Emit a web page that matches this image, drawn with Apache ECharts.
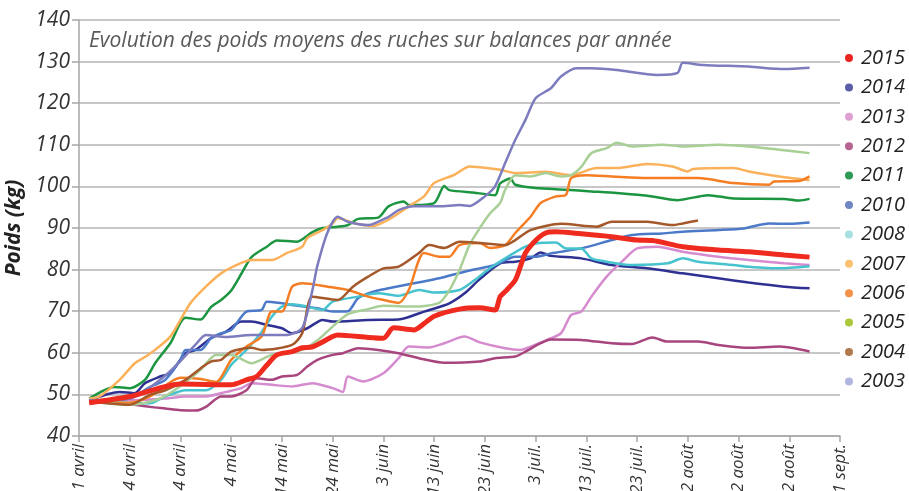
<!DOCTYPE html>
<html>
<head>
<meta charset="utf-8">
<script src="https://cdn.jsdelivr.net/npm/echarts@6/dist/echarts.min.js"></script>
<style>
 html,body{margin:0;padding:0;background:#fff;}
 #chart{width:909px;height:491px;}
</style>
</head>
<body>
<div id="chart"></div>
<script>
// libelles de l'axe x (un tous les 10 pas)
var xLabels=['1 avril','14 avril','24 avril','4 mai','14 mai','24 mai','3 juin','13 juin','23 juin','3 juil.','13 juil.','23 juil.','2 août','12 août','22 août','1 sept.'];
var years=['2015','2014','2013','2012','2011','2010','2008','2007','2006','2005','2004','2003'];
var lineColors=['#ee2b1e','#2e3192','#d68bcf','#a8457e','#1b9540','#4c7ac9','#46c3cf','#fbb05a','#f57e24','#a8cf96','#a5582a','#7c7cbf'];
var legendColors=['#e8251f','#5b5ea6','#dda0d0','#b56590','#2e9a55','#6f86c0','#a8e0e2','#fbc170','#f5924a','#abc73a','#b07a4e','#b0b6dd'];

// [pas, poids kg]
var p2015=[[2,48],[10,49.5],[20,52.5],[30,52.3],[33,53.5],[35,54.3],[37,57],[39,59.5],[42,60.3],[44,61.2],[46,61.4],[50,63.9],[51,64.3],[57,63.7],[60,63.5],[62,66],[66,65.5],[68,67],[70,68.8],[75,70.5],[79,70.8],[82,70.3],[83,73.5],[84,74.7],[86,77.5],[87,80.7],[88,84],[90,87],[92,88.8],[94,89.1],[99,88.6],[105,87.9],[110,87.1],[113,87],[119,85.5],[126,84.7],[132,84.3],[139,83.5],[144,83]];
var p2014=[[2,48.6],[8,50.6],[11,50.3],[13,52.7],[16,54.3],[18,55.1],[21,59.9],[23,60.7],[26,63.5],[29,65.1],[32,67.5],[34,67.5],[37,66.7],[40,65.9],[42,64.7],[45,65.9],[48,67.9],[50,67.5],[57,67.9],[63,68],[68,69.9],[73,71.9],[76,74.3],[79,77.7],[83,81.5],[86,81.9],[89,82.7],[91,84.1],[93,83.3],[99,82.7],[105,81.1],[112,80.3],[119,79.1],[126,77.9],[132,76.9],[139,75.9],[144,75.5]];
var p2013=[[2,48.6],[11,48.6],[17,49],[21,49.5],[25,49.5],[29,50.6],[32,51.5],[34,52.7],[38,52.3],[42,51.9],[46,52.7],[50,51.5],[52,50.6],[53,54.3],[56,53.1],[60,55.1],[63,58.7],[65,61.5],[69,61.3],[72,62.3],[76,63.9],[79,62.5],[84,61.1],[87,60.7],[89,61.5],[92,63],[95,64.7],[97,69.1],[99,69.9],[101,73.5],[104,78.3],[107,81.9],[110,85.1],[114,85.5],[119,84.3],[126,83.1],[132,82.3],[139,81.5],[144,81.1]];
var p2012=[[2,48.6],[11,47.5],[14,47],[17,46.6],[20,46.2],[23,46.1],[25,47],[28,49.5],[30,49.5],[33,51],[35,53.9],[38,53.5],[40,54.3],[43,54.7],[45,56.7],[47,58.3],[50,59.5],[52,59.9],[55,61.1],[59,60.7],[63,59.9],[67,58.7],[72,57.6],[79,57.9],[82,58.7],[86,59.1],[88,60.3],[91,62.3],[93,63.2],[99,63.1],[105,62.3],[109,62.1],[113,63.7],[116,62.7],[122,62.7],[126,61.9],[132,61.2],[138,61.5],[141,61.1],[144,60.3]];
var p2011=[[2,49],[7,51.8],[10,51.5],[13,53.5],[15,57.5],[18,62.3],[21,68.4],[24,68],[26,71],[28,72.7],[30,75],[32,79],[34,83],[37,85.5],[39,87],[43,86.7],[46,89],[48,90],[51,90.3],[53,90.7],[55,92.2],[59,92.5],[61,95.2],[64,96.4],[65,95.5],[70,96],[72,100.1],[73,99.1],[78,98.5],[82,97.9],[83,100.7],[85,101.9],[86,100.4],[90,99.6],[96,99.2],[101,98.8],[106,98.4],[113,97.6],[118,96.7],[124,97.9],[129,97.1],[139,97],[142,96.6],[144,97]];
var p2010=[[2,48.2],[10,49],[14,51.8],[17,53.5],[20,58.3],[21,60.7],[24,60.7],[26,63.5],[28,64.7],[30,65.5],[33,69.9],[36,70.3],[37,72.3],[40,71.9],[42,71.5],[47,70.7],[50,69.9],[53,70],[55,73.1],[58,74.7],[61,75.5],[66,76.7],[71,77.9],[76,79.5],[79,80.3],[82,81.1],[86,83.1],[90,83.1],[93,83.9],[99,85.1],[105,87.1],[109,88.3],[115,88.7],[119,89.1],[126,89.5],[131,89.9],[136,91.1],[140,91],[144,91.3]];
var p2008=[[2,48.6],[11,47.9],[14,47.9],[17,49.5],[21,51],[25,51],[28,53.5],[30,57.1],[33,60.7],[36,65],[38,68.7],[40,71.1],[42,71.7],[45,71.1],[48,70.3],[50,72.3],[55,73.5],[59,74.3],[63,73.7],[67,75.1],[70,74.5],[75,75.1],[78,77.5],[81,80.3],[84,82.7],[88,85.5],[90,86.3],[94,86.5],[96,85.1],[99,85.1],[101,82.7],[104,81.9],[109,81.1],[116,81.5],[119,82.7],[122,81.9],[129,81.1],[132,80.7],[138,80.3],[144,80.8]];
var p2007=[[2,49],[4,49.5],[8,53.5],[11,57.5],[13,59],[15,60.7],[18,63.9],[20,67.9],[22,72],[25,75.9],[28,79.1],[32,81.6],[34,82.3],[38,82.3],[41,84],[44,85.5],[45,87.6],[48,89.5],[50,91.1],[51,92.4],[54,91.2],[58,90.5],[61,92],[65,95.2],[68,97.6],[70,100.8],[74,102.8],[77,104.8],[79,104.6],[83,104],[86,103.2],[92,103.5],[97,102.7],[102,104.4],[106,104.4],[112,105.4],[117,104.8],[120,103.6],[121,104.2],[129,104.4],[132,103.6],[138,102.4],[144,101.5]];
var p2006=[[2,48.5],[6,48],[10,48],[14,49.5],[20,54],[24,53.7],[27,53],[30,58.3],[33,61.5],[36,63.9],[38,69.9],[40,69.9],[42,75.9],[44,76.7],[49,75.9],[53,75.1],[57,73.5],[60,72.7],[63,72],[65,75.1],[68,84],[71,83.1],[73,83.1],[75,85.9],[79,86.4],[81,85.2],[84,85.9],[86,88.8],[89,92.7],[91,96],[94,97.6],[96,98],[97,102],[100,102.7],[105,102.4],[112,102],[122,102],[129,100.8],[136,100.4],[137,101.2],[142,101.3],[144,102.4]];
var p2005=[[2,48.5],[10,47.5],[16,49],[20,52],[24,56],[27,59.5],[30,59.5],[34,57.5],[38,59.5],[44,60.7],[47,63],[50,66.3],[53,69.3],[57,70.5],[60,71.3],[66,71.1],[71,72],[73,75],[75,79.9],[77,86],[79,90],[81,93.5],[83,96],[84,99.2],[86,102.7],[89,102.4],[92,103.2],[95,102.4],[97,102.7],[99,104.7],[101,108],[104,109.2],[106,110.5],[109,109.6],[115,110],[119,109.6],[126,110],[132,109.6],[138,108.8],[144,108]];
var p2004=[[2,48.3],[6,47.8],[10,47.5],[14,49.9],[17,51],[21,53.5],[24,56.3],[26,57.9],[28,58.3],[30,60.3],[34,61.2],[36,60.7],[42,61.9],[44,64.7],[46,73.5],[51,72.7],[54,75.9],[57,78.3],[60,80.3],[63,80.7],[67,84],[69,85.9],[72,85.2],[75,86.7],[79,86.4],[84,85.9],[86,87.1],[89,89.5],[95,91],[102,90.3],[105,91.5],[112,91.5],[117,90.7],[119,91.1],[122,91.8]];
var p2003=[[2,48.6],[10,49],[16,53.5],[20,58],[23,62],[25,64.3],[29,63.8],[34,64.3],[38,64.3],[41,64.3],[44,66],[46,75],[47,81],[49,89],[51,92.7],[53,91.5],[57,90.7],[61,92.7],[63,94.3],[66,95.2],[71,95.2],[75,95.5],[77,95.3],[80,97.6],[82,100],[84,105.6],[86,111.2],[88,116],[90,121.2],[93,123.6],[95,126.4],[98,128.4],[101,128.4],[106,128],[114,126.8],[118,127.3],[119,129.7],[123,129.2],[132,128.8],[139,128.2],[144,128.5]];

var allData=[p2015,p2014,p2013,p2012,p2011,p2010,p2008,p2007,p2006,p2005,p2004,p2003];

var seriesData=[];
for(var i=0;i<years.length;i++){
	seriesData.push({
		name:years[i],
		type:'line',
		data:allData[i],
		smooth:0.25,
		showSymbol:false,
		z:i==0?5:2,
		lineStyle:{width:i==0?5:2.5,color:lineColors[i]},
		itemStyle:{color:lineColors[i]}
	});
}
var legendData=[];
for(var i=0;i<years.length;i++){
	legendData.push({name:years[i],itemStyle:{color:legendColors[i]}});
}

var font='"Open Sans", sans-serif';
var myChart=echarts.init(document.getElementById('chart'));
var option={
	animation:false,
	title:{
		text:'Evolution des poids moyens des ruches sur balances par année',
		left:84,top:26,
		textStyle:{fontFamily:font,fontStyle:'italic',fontWeight:'normal',fontSize:21,color:'#5a5a5a'}
	},
	legend:{
		orient:'vertical',
		left:840,top:43,
		icon:'circle',
		itemWidth:14,itemHeight:8,
		itemGap:9.4,
		data:legendData,
		textStyle:{fontFamily:font,fontStyle:'italic',fontSize:20,lineHeight:20,color:'#222'}
	},
	grid:{left:79,right:69,top:20,bottom:55,outerBoundsMode:'none'},
	xAxis:{
		type:'value',min:0,max:150,interval:10,
		axisLine:{lineStyle:{color:'#a6a6a6',width:1.5}},
		axisTick:{show:true,length:6,lineStyle:{color:'#a6a6a6',width:1.5}},
		splitLine:{show:false},
		axisLabel:{
			rotate:90,margin:8,
			fontFamily:font,fontStyle:'italic',fontSize:17,color:'#333',
			formatter:function(v){return xLabels[Math.round(v/10)];}
		}
	},
	yAxis:{
		type:'value',min:40,max:140,interval:10,
		name:'Poids (kg)',nameLocation:'middle',nameGap:46,
		nameTextStyle:{fontFamily:font,fontStyle:'italic',fontWeight:'bold',fontSize:21,color:'#222'},
		axisLine:{show:true,lineStyle:{color:'#a6a6a6',width:1.5}},
		axisTick:{show:true,length:7,lineStyle:{color:'#a6a6a6',width:1.5}},
		splitLine:{lineStyle:{color:'#b5b5b5',width:1.5}},
		axisLabel:{margin:9,fontFamily:font,fontStyle:'italic',fontSize:21,color:'#333'}
	},
	series:seriesData
};
myChart.setOption(option);
window.addEventListener('resize',function(){
	myChart.resize();
});
</script>
</body>
</html>
